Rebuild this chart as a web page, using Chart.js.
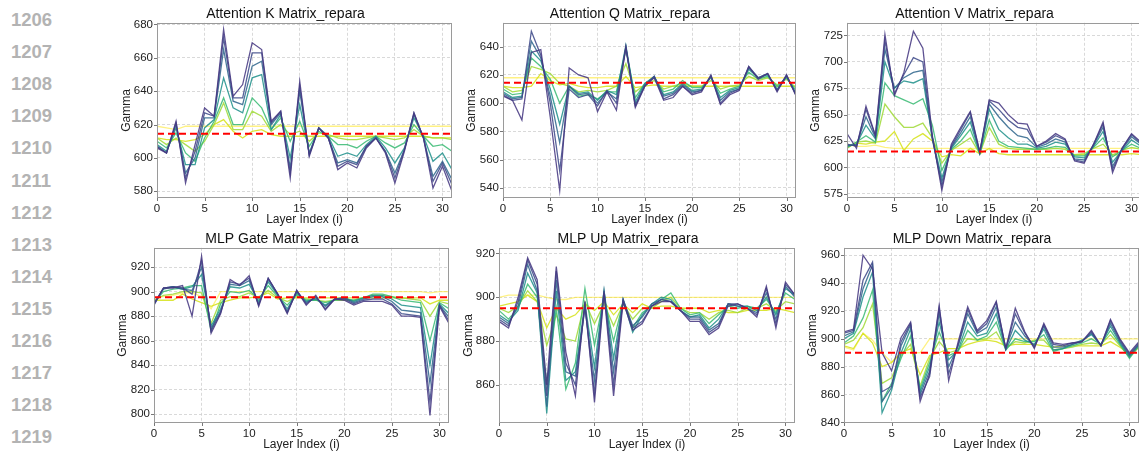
<!DOCTYPE html>
<html>
<head>
<meta charset="utf-8">
<script src="https://cdn.jsdelivr.net/npm/chart.js@4.4.1/dist/chart.umd.min.js"></script>
<style>
	html, body { margin: 0; padding: 0; background: #fff; }
	body { width: 1139px; height: 453px; position: relative; overflow: hidden; font-family: "Liberation Sans", Arial, sans-serif; }
	.lineno { position: absolute; left: 11px; font-size: 18.5px; font-weight: bold; color: #b3b3b3; line-height: 20px; }
	canvas { position: absolute; }
</style>
</head>
<body>
<script>
// Numeros de linha (margem do artigo)
const lineNumbers = ["1206", "1207", "1208", "1209", "1210", "1211", "1212", "1213", "1214", "1215", "1216", "1217", "1218", "1219"];

// Eixo x: indice da camada
const layers = [0, 1, 2, 3, 4, 5, 6, 7, 8, 9, 10, 11, 12, 13, 14, 15, 16, 17, 18, 19, 20, 21, 22, 23, 24, 25, 26, 27, 28, 29, 30, 31];
const xTicks = [0, 5, 10, 15, 20, 25, 30];

const panelTitles = [
	"Attention K Matrix_repara",
	"Attention Q Matrix_repara",
	"Attention V Matrix_repara",
	"MLP Gate Matrix_repara",
	"MLP Up Matrix_repara",
	"MLP Down Matrix_repara"
];

// Linha de referencia vermelha (tracejada)
const redLine = [614.5, 614.5, 615, 895.5, 895, 890];

// Limites e ticks do eixo y
const yMin = [576, 532.7, 571, 792.8, 842.6, 839.6];
const yMax = [681, 657, 737, 935.8, 922.6, 965.3];
const yTicks = [
	[580, 600, 620, 640, 660, 680],
	[540, 560, 580, 600, 620, 640],
	[575, 600, 625, 650, 675, 700, 725],
	[800, 820, 840, 860, 880, 900, 920],
	[860, 880, 900, 920],
	[840, 860, 880, 900, 920, 940, 960]
];

// Cores (viridis, do escuro ao amarelo)
const seriesColors = ["#453781", "#3e4a89", "#30678d", "#21918c", "#3bbb75", "#a0da39", "#d5e21a", "#fde725"];

// Series de cada painel (do escuro ao amarelo)
const attnK = [
	[606, 603, 622, 585, 608, 630, 625, 677, 637, 644, 669, 665, 622, 628, 588, 646, 601, 618, 612, 593, 597, 594, 606, 612, 603, 585, 604, 627, 612, 582, 595, 580],
	[607, 603, 621, 588, 604, 627, 625, 672, 636, 636, 663, 663, 621, 628, 591, 643, 602, 618, 612, 595, 598, 596, 607, 612, 604, 588, 605, 627, 612, 586, 597, 584],
	[607, 603, 620, 591, 600, 624, 624, 665, 634, 632, 655, 658, 620, 627, 594, 640, 602, 618, 612, 597, 599, 597, 607, 612, 604, 591, 605, 626, 612, 589, 598, 587],
	[608, 604, 618, 596, 596, 618, 623, 648, 630, 627, 648, 650, 617, 626, 600, 632, 603, 618, 613, 601, 603, 601, 608, 613, 606, 597, 606, 624, 613, 598, 603, 593],
	[610, 606, 615, 603, 598, 612, 622, 636, 620, 620, 636, 630, 617, 624, 610, 622, 607, 616, 613, 608, 608, 606, 610, 613, 609, 606, 609, 620, 613, 607, 608, 604],
	[612, 608, 612, 608, 604, 610, 620, 633, 617, 617, 628, 625, 616, 620, 614, 616, 610, 615, 614, 612, 611, 611, 612, 613, 612, 611, 612, 617, 613, 612, 612, 611],
	[612, 611, 611, 610, 611, 614, 620, 623, 616, 612, 616, 617, 614, 613, 613, 613, 613, 613, 613, 613, 613, 613, 613, 613, 613, 613, 613, 613, 613, 612, 612, 612],
	[619, 618, 617, 619, 619, 619, 619, 619, 619, 619, 619, 619, 619, 619, 619, 619, 619, 619, 619, 619, 619, 619, 619, 619, 619, 619, 619, 619, 619, 619, 619, 619]
];

const attnQ = [
	[605, 602, 588, 636, 638, 590, 538, 625, 620, 618, 594, 608, 595, 640, 597, 612, 618, 602, 604, 612, 606, 608, 620, 599, 606, 609, 626, 617, 621, 608, 620, 605],
	[606, 602, 603, 651, 634, 600, 552, 610, 604, 606, 598, 609, 600, 639, 598, 612, 619, 603, 606, 612, 607, 609, 619, 600, 607, 610, 626, 618, 621, 609, 620, 606],
	[607, 603, 604, 644, 632, 605, 572, 612, 606, 607, 600, 608, 603, 640, 599, 613, 619, 605, 607, 613, 608, 609, 619, 602, 608, 610, 625, 618, 621, 609, 619, 606],
	[608, 604, 605, 637, 630, 610, 585, 612, 607, 608, 602, 609, 606, 641, 601, 614, 619, 606, 608, 614, 609, 610, 619, 604, 609, 611, 624, 618, 620, 610, 619, 607],
	[610, 606, 607, 632, 626, 617, 600, 612, 605, 606, 603, 608, 608, 638, 604, 614, 618, 608, 610, 616, 611, 611, 618, 607, 610, 612, 622, 617, 619, 612, 618, 609],
	[612, 608, 609, 626, 624, 621, 614, 612, 608, 609, 608, 609, 612, 628, 608, 613, 616, 610, 612, 614, 612, 612, 616, 610, 612, 613, 619, 616, 618, 613, 617, 611],
	[612, 611, 611, 612, 621, 616, 613, 614, 612, 611, 611, 612, 612, 619, 611, 612, 613, 612, 612, 612, 612, 612, 612, 612, 612, 612, 612, 612, 612, 612, 612, 612],
	[618, 618, 618, 618, 618, 618, 618, 618, 618, 618, 618, 618, 618, 618, 618, 618, 618, 618, 618, 618, 618, 618, 618, 618, 618, 618, 618, 618, 618, 618, 618, 618]
];

const attnV = [
	[632, 618, 658, 630, 726, 668, 690, 729, 713, 630, 578, 622, 638, 653, 615, 664, 661, 650, 642, 641, 620, 625, 632, 627, 606, 604, 622, 643, 595, 618, 632, 624],
	[622, 620, 655, 630, 720, 670, 688, 704, 700, 628, 582, 620, 636, 652, 614, 663, 655, 645, 638, 636, 620, 624, 630, 626, 607, 605, 622, 641, 598, 618, 631, 623],
	[621, 621, 648, 628, 712, 675, 685, 690, 692, 626, 586, 619, 633, 648, 614, 660, 648, 638, 630, 628, 619, 622, 627, 624, 608, 607, 621, 638, 601, 617, 629, 622],
	[620, 622, 640, 627, 700, 675, 682, 680, 684, 628, 590, 618, 630, 643, 613, 655, 636, 628, 622, 622, 618, 620, 624, 622, 610, 609, 620, 634, 605, 616, 626, 620],
	[619, 624, 630, 624, 680, 668, 664, 660, 665, 640, 597, 617, 625, 636, 613, 645, 625, 620, 619, 618, 617, 618, 620, 619, 611, 611, 619, 628, 610, 616, 622, 618],
	[618, 624, 625, 623, 660, 648, 638, 638, 642, 628, 604, 616, 622, 628, 613, 638, 622, 618, 617, 617, 617, 617, 618, 617, 612, 613, 618, 622, 612, 616, 619, 617],
	[619, 623, 622, 624, 625, 634, 616, 627, 632, 625, 610, 612, 611, 618, 613, 618, 613, 612, 612, 612, 612, 612, 612, 612, 612, 612, 612, 612, 612, 612, 613, 612],
	[622, 620, 620, 621, 619, 618, 618, 618, 618, 618, 618, 618, 618, 618, 618, 618, 618, 618, 618, 618, 618, 618, 618, 618, 618, 618, 618, 618, 618, 618, 618, 618]
];

const mlpGate = [
	[890, 903, 903, 905, 880, 929, 866, 882, 910, 905, 913, 888, 911, 898, 882, 901, 889, 897, 885, 894, 893, 889, 892, 892, 892, 889, 880, 880, 879, 799, 888, 874],
	[889, 903, 904, 903, 898, 925, 868, 883, 908, 906, 911, 889, 911, 898, 883, 901, 890, 896, 886, 894, 894, 890, 893, 894, 894, 890, 882, 881, 880, 810, 889, 876],
	[890, 903, 904, 902, 901, 920, 870, 884, 906, 905, 909, 890, 910, 898, 884, 900, 891, 895, 888, 894, 895, 891, 894, 896, 896, 892, 885, 884, 883, 825, 889, 879],
	[890, 902, 904, 902, 904, 914, 872, 886, 904, 903, 906, 892, 908, 897, 886, 899, 892, 894, 889, 894, 895, 892, 895, 897, 897, 894, 889, 888, 887, 840, 890, 882],
	[891, 900, 902, 903, 905, 905, 868, 890, 900, 899, 901, 894, 905, 896, 889, 898, 893, 893, 891, 893, 894, 893, 895, 898, 898, 896, 893, 892, 891, 860, 891, 886],
	[893, 897, 898, 900, 900, 899, 874, 893, 896, 896, 899, 895, 901, 895, 892, 896, 894, 893, 892, 893, 893, 893, 895, 897, 897, 896, 895, 894, 893, 880, 892, 890],
	[893, 893, 893, 898, 894, 891, 888, 891, 893, 895, 895, 896, 899, 894, 895, 895, 895, 895, 895, 895, 895, 895, 895, 895, 895, 895, 895, 895, 895, 890, 893, 893],
	[895, 896, 897, 899, 899, 896, 886, 900, 900, 900, 900, 900, 900, 900, 900, 900, 900, 900, 900, 900, 900, 900, 900, 900, 900, 900, 900, 900, 900, 899, 900, 900]
];

const mlpUp = [
	[889, 886, 900, 918, 908, 860, 914, 875, 855, 898, 852, 902, 855, 898, 885, 888, 896, 898, 898, 894, 889, 889, 883, 886, 896, 897, 895, 891, 905, 886, 907, 901],
	[890, 887, 898, 917, 906, 855, 912, 870, 860, 896, 856, 903, 860, 899, 886, 889, 896, 899, 898, 894, 890, 890, 884, 887, 897, 897, 895, 892, 904, 888, 906, 901],
	[891, 888, 896, 915, 903, 850, 908, 866, 864, 895, 862, 903, 866, 899, 887, 891, 897, 899, 898, 894, 891, 891, 885, 888, 897, 896, 895, 893, 902, 890, 905, 900],
	[892, 889, 894, 911, 902, 847, 903, 862, 866, 897, 868, 903, 872, 899, 884, 892, 897, 900, 899, 894, 891, 892, 886, 890, 897, 896, 896, 894, 900, 892, 904, 901],
	[894, 890, 895, 906, 900, 860, 895, 858, 870, 904, 878, 900, 880, 898, 886, 893, 896, 899, 902, 895, 892, 893, 888, 892, 896, 895, 896, 895, 899, 893, 902, 899],
	[895, 893, 896, 903, 898, 878, 892, 881, 880, 898, 888, 897, 887, 897, 890, 895, 895, 898, 900, 895, 893, 893, 890, 893, 894, 893, 895, 895, 897, 894, 898, 897],
	[896, 897, 898, 901, 898, 886, 895, 890, 892, 897, 894, 898, 892, 897, 893, 897, 895, 896, 896, 895, 895, 895, 893, 894, 893, 893, 894, 894, 894, 895, 894, 893],
	[900, 901, 901, 901, 901, 900, 899, 899, 900, 900, 900, 900, 900, 900, 900, 900, 900, 900, 900, 900, 900, 900, 900, 900, 900, 900, 900, 900, 900, 900, 900, 900]
];

const mlpDown = [
	[905, 907, 960, 950, 890, 877, 901, 912, 855, 875, 924, 870, 898, 923, 906, 913, 927, 893, 922, 905, 893, 911, 897, 896, 897, 898, 906, 895, 914, 900, 890, 898],
	[904, 906, 942, 955, 862, 866, 898, 911, 858, 873, 922, 875, 896, 921, 905, 911, 926, 893, 918, 904, 894, 910, 896, 895, 897, 898, 905, 895, 913, 899, 889, 897],
	[902, 905, 936, 953, 855, 865, 895, 910, 860, 877, 918, 880, 895, 918, 904, 908, 923, 893, 912, 902, 895, 909, 894, 894, 896, 898, 904, 895, 911, 898, 888, 896],
	[900, 904, 930, 948, 847, 863, 890, 907, 862, 880, 912, 885, 892, 912, 902, 904, 918, 892, 906, 899, 896, 907, 892, 893, 896, 899, 903, 896, 909, 897, 887, 896],
	[897, 902, 915, 935, 855, 868, 886, 902, 864, 883, 905, 888, 891, 906, 899, 902, 912, 892, 900, 898, 898, 903, 891, 893, 895, 897, 900, 896, 906, 896, 886, 895],
	[896, 899, 908, 925, 868, 872, 888, 896, 866, 886, 898, 890, 892, 900, 899, 900, 905, 893, 898, 897, 899, 899, 892, 893, 894, 896, 897, 896, 903, 895, 887, 894],
	[895, 893, 904, 897, 880, 883, 890, 893, 874, 888, 890, 893, 893, 896, 898, 899, 898, 895, 896, 896, 896, 895, 894, 895, 895, 895, 895, 895, 898, 894, 889, 894],
	[894, 892, 904, 899, 890, 883, 890, 890, 890, 900, 900, 900, 900, 900, 900, 900, 900, 900, 900, 900, 900, 900, 900, 900, 900, 900, 900, 900, 900, 900, 900, 900]
];

const panelSeries = [attnK, attnQ, attnV, mlpGate, mlpUp, mlpDown];

// Posicao de cada canvas na pagina: [left, top, width, height, largura do eixo y]
const panelBoxes = [
	[119, 6, 333, 221, 38],
	[464, 6, 332, 221, 39],
	[808, 6, 333, 221, 39],
	[115, 231, 334, 221, 39],
	[461, 231, 334, 221, 38],
	[805, 231, 334, 221, 39]
];

const FONT = "'Liberation Sans', Arial, sans-serif";

// Moldura do grafico (spines) e marcas dos ticks
const framePlugin = {
	id: "frame",
	afterDatasetsDraw(chart) {
		const { ctx, chartArea: a, scales } = chart;
		ctx.save();
		ctx.strokeStyle = "#9a9a9a";
		ctx.lineWidth = 1;
		ctx.strokeRect(Math.round(a.left) + 0.5, Math.round(a.top) + 0.5, Math.round(a.right - a.left) - 1, Math.round(a.bottom - a.top) - 1);
		ctx.strokeStyle = "#555";
		ctx.lineWidth = 0.8;
		ctx.beginPath();
		scales.y.ticks.forEach((t) => {
			const y = Math.round(scales.y.getPixelForValue(t.value)) + 0.5;
			ctx.moveTo(a.left - 3, y);
			ctx.lineTo(a.left, y);
		});
		scales.x.ticks.forEach((t) => {
			const x = Math.round(scales.x.getPixelForValue(t.value)) + 0.5;
			ctx.moveTo(x, a.bottom);
			ctx.lineTo(x, a.bottom + 3);
		});
		ctx.stroke();
		ctx.restore();
	}
};

// Numeros de linha
lineNumbers.forEach((n, i) => {
	const d = document.createElement("div");
	d.className = "lineno";
	d.textContent = n;
	d.style.top = (10 + i * 32.1) + "px";
	document.body.appendChild(d);
});

panelSeries.forEach((series, k) => {
	const [left, top, w, h, yW] = panelBoxes[k];
	const canvas = document.createElement("canvas");
	canvas.width = w;
	canvas.height = h;
	canvas.style.left = left + "px";
	canvas.style.top = top + "px";
	document.body.appendChild(canvas);

	const datasets = [
		{
			data: layers.map(() => redLine[k]),
			borderColor: "#ff0000",
			borderWidth: 2,
			borderDash: [7, 4],
			pointRadius: 0
		}
	];
	series.forEach((s, j) => {
		datasets.push({
			data: s,
			borderColor: seriesColors[j] + (j === series.length - 1 ? "90" : "dd"),
			borderWidth: 1.3,
			pointRadius: 0,
			tension: 0
		});
	});

	new Chart(canvas.getContext("2d"), {
		type: "line",
		data: { labels: layers, datasets: datasets },
		options: {
			responsive: false,
			animation: false,
			events: [],
			layout: { padding: 0 },
			plugins: {
				legend: { display: false },
				tooltip: { enabled: false },
				title: {
					display: true,
					text: panelTitles[k],
					color: "#111",
					font: { family: FONT, size: 14, weight: "normal" },
					padding: { top: 0, bottom: 0 }
				}
			},
			scales: {
				x: {
					type: "linear",
					min: 0,
					max: 31,
					afterBuildTicks: (scale) => {
						scale.ticks = xTicks.map((v) => ({ value: v }));
					},
					afterFit: (scale) => {
						scale.height = 29;
						scale.paddingLeft = 0;
						scale.paddingRight = 0;
					},
					ticks: {
						color: "#222",
						font: { family: FONT, size: 11.5 },
						padding: 4,
						maxRotation: 0
					},
					grid: { color: "#cfcfcf", lineWidth: 0.8, drawTicks: false },
					border: { display: false, dash: [3, 2] },
					title: {
						display: true,
						text: "Layer Index (i)",
						color: "#222",
						font: { family: FONT, size: 12 },
						padding: 0
					}
				},
				y: {
					min: yMin[k],
					max: yMax[k],
					afterBuildTicks: (scale) => {
						scale.ticks = yTicks[k].map((v) => ({ value: v }));
					},
					afterFit: (scale) => {
						scale.width = yW;
					},
					ticks: {
						color: "#222",
						font: { family: FONT, size: 11.5 },
						padding: 4
					},
					grid: { color: "#cfcfcf", lineWidth: 0.8, drawTicks: false },
					border: { display: false, dash: [3, 2] },
					title: {
						display: true,
						text: "Gamma",
						color: "#222",
						font: { family: FONT, size: 12 },
						padding: 0
					}
				}
			}
		},
		plugins: [framePlugin]
	});
});
</script>
</body>
</html>
